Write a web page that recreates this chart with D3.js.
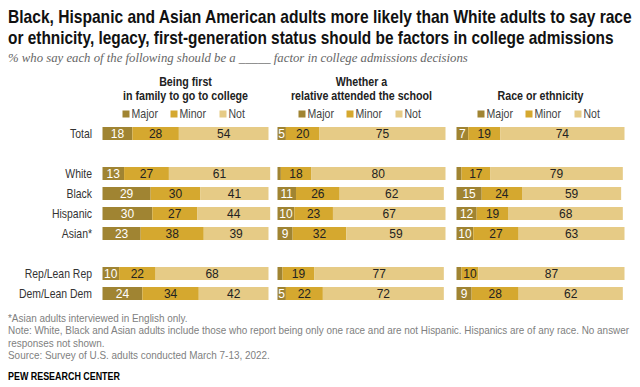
<!DOCTYPE html>
<html>
<head>
<meta charset="utf-8">
<title>Admissions factors</title>
<script src="https://d3js.org/d3.v7.min.js"></script>
<style>
    body { margin: 0; background: #fff; }
    svg { font-family: "Liberation Sans", Arial, sans-serif; }
    .title { font-weight: bold; fill: #111; }
    .sub { font-family: "Liberation Serif", "DejaVu Serif", serif; font-style: italic; fill: #666; }
    .head { font-weight: bold; fill: #222; }
    .note { fill: #808080; }
</style>
</head>
<body>
<script>
    const groups = ["Total", "White", "Black", "Hispanic", "Asian*", "Rep/Lean Rep", "Dem/Lean Dem"];
    const slots = ["Total", "gap1", "White", "Black", "Hispanic", "Asian*", "gap2", "Rep/Lean Rep", "Dem/Lean Dem"];
    const responses = ["Major", "Minor", "Not"];

    const firstGenMajor = [18, 13, 29, 30, 23, 10, 24];
    const firstGenMinor = [28, 27, 30, 27, 38, 22, 34];
    const firstGenNot   = [54, 61, 41, 44, 39, 68, 42];

    const legacyMajor = [5, 2, 11, 10, 9, 3, 5];
    const legacyMinor = [20, 18, 26, 23, 32, 19, 22];
    const legacyNot   = [75, 80, 62, 67, 59, 77, 72];

    const raceMajor = [7, 3, 15, 12, 10, 3, 9];
    const raceMinor = [19, 17, 24, 19, 27, 10, 28];
    const raceNot   = [74, 79, 59, 68, 63, 87, 62];

    const panelTitles = [
        ["Being first", "in family to go to college"],
        ["Whether a", "relative attended the school"],
        ["Race or ethnicity"]
    ];
    const panelData = [
        [firstGenMajor, firstGenMinor, firstGenNot],
        [legacyMajor, legacyMinor, legacyNot],
        [raceMajor, raceMinor, raceNot]
    ];

    const width = 640, height = 387;
    const colors = d3.scaleOrdinal().domain(responses).range(["#a08432", "#d5a82f", "#e6cb86"]);
    const panelRanges = [[102.5, 268.5], [277.5, 445.5], [456.5, 624.5]];

    // no narrow font installed: place text at origin and squeeze it with a transform
    function place(sel, x, y, factor) {
        sel.each(function(d, i) {
            const px = typeof x === "function" ? x(d, i) : x;
            const py = typeof y === "function" ? y(d, i) : y;
            const f = typeof factor === "function" ? factor.call(this, d, i) : factor;
            d3.select(this).attr("x", 0).attr("y", 0)
                .attr("transform", `translate(${px},${py}) scale(${f},1)`);
        });
    }
    const fitWidth = target => function() { return target / this.getComputedTextLength(); };

    const svg = d3.select("body").append("svg")
        .attr("width", width)
        .attr("height", height);

    // title + subtitle
    const titleLines = [
        "Black, Hispanic and Asian American adults more likely than White adults to say race",
        "or ethnicity, legacy, first-generation status should be factors in college admissions"
    ];
    const titleWidths = [624, 606];
    svg.selectAll(".title").data(titleLines).join("text")
        .attr("class", "title")
        .style("font-size", "18.5px")
        .text(d => d)
        .call(place, 8, (d, i) => 23 + i * 21, function(d, i) { return titleWidths[i] / this.getComputedTextLength(); });

    svg.append("text")
        .attr("class", "sub")
        .style("font-size", "12px")
        .text("% who say each of the following should be a _____ factor in college admissions decisions")
        .call(place, 8, 62, fitWidth(460));

    const y = d3.scaleBand()
        .domain(slots)
        .range([123.5, 303.5])
        .paddingInner(0.35)
        .paddingOuter(0.175);

    // row labels
    svg.selectAll(".rowlab").data(groups).join("text")
        .attr("class", "rowlab")
        .attr("dy", "0.35em")
        .attr("text-anchor", "end")
        .style("font-size", "12px")
        .style("fill", "#333")
        .text(d => d)
        .call(place, 92, d => y(d) + y.bandwidth() / 2, 0.87);

    panelData.forEach((series, p) => {
        const x = d3.scaleLinear().domain([0, 100]).range(panelRanges[p]);
        const cx = (panelRanges[p][0] + panelRanges[p][1]) / 2;
        const g = svg.append("g");

        // header
        const lines = panelTitles[p];
        g.selectAll(".head").data(lines).join("text")
            .attr("class", "head")
            .attr("text-anchor", "middle")
            .style("font-size", "12px")
            .text(d => d)
            .call(place, cx, (d, i) => 100 - (lines.length - 1 - i) * 14, 0.89);

        // legend
        const leg = g.append("g").attr("transform", `translate(${cx - 63},114)`);
        const legX = [0, 48, 97];
        responses.forEach((r, k) => {
            leg.append("rect")
                .attr("x", legX[k]).attr("y", -3.5)
                .attr("width", 7).attr("height", 7)
                .attr("fill", colors(r));
            leg.append("text")
                .attr("dy", "0.35em")
                .style("font-size", "12px")
                .style("fill", "#444")
                .text(r)
                .call(place, legX[k] + 9, 0, 0.88);
        });

        // stacked bars
        const rows = groups.map((name, i) => {
            let acc = 0;
            return responses.map((r, k) => {
                const v = series[k][i];
                const seg = { name, r, v, x0: acc, x1: acc + v };
                acc += v;
                return seg;
            });
        }).flat();

        g.selectAll("rect.bar").data(rows).join("rect")
            .attr("class", "bar")
            .attr("x", d => x(d.x0))
            .attr("y", d => y(d.name))
            .attr("width", d => x(d.x1) - x(d.x0))
            .attr("height", y.bandwidth())
            .attr("fill", d => colors(d.r));

        g.selectAll("text.val").data(rows.filter(d => d.v >= 5)).join("text")
            .attr("class", "val")
            .attr("x", d => (x(d.x0) + x(d.x1)) / 2)
            .attr("y", d => y(d.name) + y.bandwidth() / 2)
            .attr("dy", "0.36em")
            .attr("text-anchor", "middle")
            .style("font-size", "12px")
            .style("fill", d => d.r === "Major" ? "#fff" : "#222")
            .text(d => d.v);
    });

    // footnotes
    const notes = [
        "*Asian adults interviewed in English only.",
        "Note: White, Black and Asian adults include those who report being only one race and are not Hispanic. Hispanics are of any race. No answer",
        "responses not shown.",
        "Source: Survey of U.S. adults conducted March 7-13, 2022."
    ];
    const noteSel = svg.selectAll(".note").data(notes).join("text")
        .attr("class", "note")
        .style("font-size", "10.5px")
        .text(d => d);
    const noteFactor = 622 / noteSel.nodes()[1].getComputedTextLength();
    noteSel.call(place, 8, (d, i) => 322 + i * 12.3, noteFactor);

    svg.append("text")
        .style("font-size", "10.5px")
        .style("font-weight", "bold")
        .style("fill", "#000")
        .text("PEW RESEARCH CENTER")
        .call(place, 8, 380, 0.85);
</script>
</body>
</html>
